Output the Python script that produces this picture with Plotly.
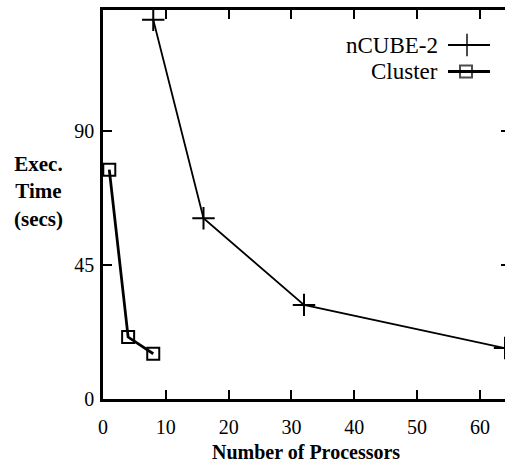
import plotly.graph_objects as go

# Data
ncube_x = [8, 16, 32, 64]
ncube_y = [127.3, 60.7, 31.6, 17.1]
cluster_x = [1, 4, 8]
cluster_y = [77.0, 20.8, 15.2]
series_names = ["nCUBE-2", "Cluster"]
x_ticks = [0, 10, 20, 30, 40, 50, 60]
y_ticks = [0, 45, 90]

FONT = "Liberation Serif"
W, H = 505, 462
L, R, T, B = 103, 0, 10, 63
PW, PH = W - L - R, H - T - B


def px(x):
    return (x - L) / PW


def py(y):
    return (H - B - y) / PH


fig = go.Figure()
fig.add_trace(go.Scatter(
    x=ncube_x, y=ncube_y, mode="lines+markers", name=series_names[0],
    line=dict(color="black", width=1.8),
    marker=dict(symbol="cross-thin", size=16, line=dict(color="black", width=2)),
    cliponaxis=True, showlegend=False))
fig.add_trace(go.Scatter(
    x=cluster_x, y=cluster_y, mode="lines+markers", name=series_names[1],
    line=dict(color="black", width=2.8),
    marker=dict(symbol="square-open", size=12, color="black", line=dict(color="black", width=2)),
    cliponaxis=False, showlegend=False))

# right-side ticks (no line)
fig.add_trace(go.Scatter(x=[None], y=[None], yaxis="y2", showlegend=False))

# custom legend keys (symbol right of text), on a pixel-coordinate overlay axis
fig.add_trace(go.Scatter(
    x=[448, 467, 490], y=[45, 45, 45], xaxis="x3", yaxis="y3", mode="lines+markers",
    line=dict(color="black", width=1.8),
    marker=dict(symbol="cross-thin", size=[0, 16, 0], line=dict(color="black", width=2)),
    showlegend=False, hoverinfo="skip"))
fig.add_trace(go.Scatter(
    x=[448, 466, 490], y=[71.5, 71.5, 71.5], xaxis="x3", yaxis="y3", mode="lines+markers",
    line=dict(color="black", width=2.8),
    marker=dict(symbol="square-open", size=[0, 12, 0], color="black", line=dict(color="black", width=2)),
    showlegend=False, hoverinfo="skip"))

axis_common = dict(showgrid=False, zeroline=False, ticks="inside", ticklen=9, tickwidth=2,
                   tickcolor="black", linecolor="black", linewidth=2.5, automargin=False,
                   tickfont=dict(family=FONT, size=20, color="black"))

fig.update_layout(
    width=W, height=H, margin=dict(l=L, r=R, t=T, b=B, autoexpand=False),
    paper_bgcolor="white", plot_bgcolor="white",
    xaxis=dict(range=[0, 64], tickvals=x_ticks, showline=True, mirror="ticks", ticklabelstandoff=8,
               **axis_common),
    yaxis=dict(range=[0, 130.6], tickvals=y_ticks, showline=True, mirror=False, ticklabelstandoff=2,
               **axis_common),
    yaxis2=dict(range=[0, 130.6], tickvals=y_ticks, overlaying="y", side="right", showline=False,
                showticklabels=False, showgrid=False, zeroline=False, ticks="inside", ticklen=4,
                tickwidth=2, tickcolor="black", automargin=False),
    xaxis3=dict(range=[L, W - R], overlaying="x", visible=False, anchor="y3"),
    yaxis3=dict(range=[H - B, T], overlaying="y", visible=False, anchor="x3"),
    font=dict(family=FONT, color="black"),
    showlegend=False,
)

fig.add_annotation(text="<b>Number of Processors</b>", xref="paper", yref="paper",
                   x=px(306), y=py(452), xanchor="center", yanchor="middle", showarrow=False,
                   font=dict(family=FONT, size=20, color="black"))
fig.add_annotation(text="<b>Exec.</b><br><b>Time</b><br><b>(secs)</b>", xref="paper", yref="paper",
                   x=px(38), y=py(191), xanchor="center", yanchor="middle",
                   showarrow=False, align="center",
                   font=dict(family=FONT, size=21, color="black"))
for name, yy in zip(series_names, [45, 71.5]):
    fig.add_annotation(text=name, xref="paper", yref="paper", x=px(440), y=py(yy), xanchor="right",
                       yanchor="middle", showarrow=False,
                       font=dict(family=FONT, size=23, color="black"))

fig.write_html("out.html", config={"displayModeBar": False},
               post_script="document.body.style.margin='0';document.body.style.overflow='hidden';")
